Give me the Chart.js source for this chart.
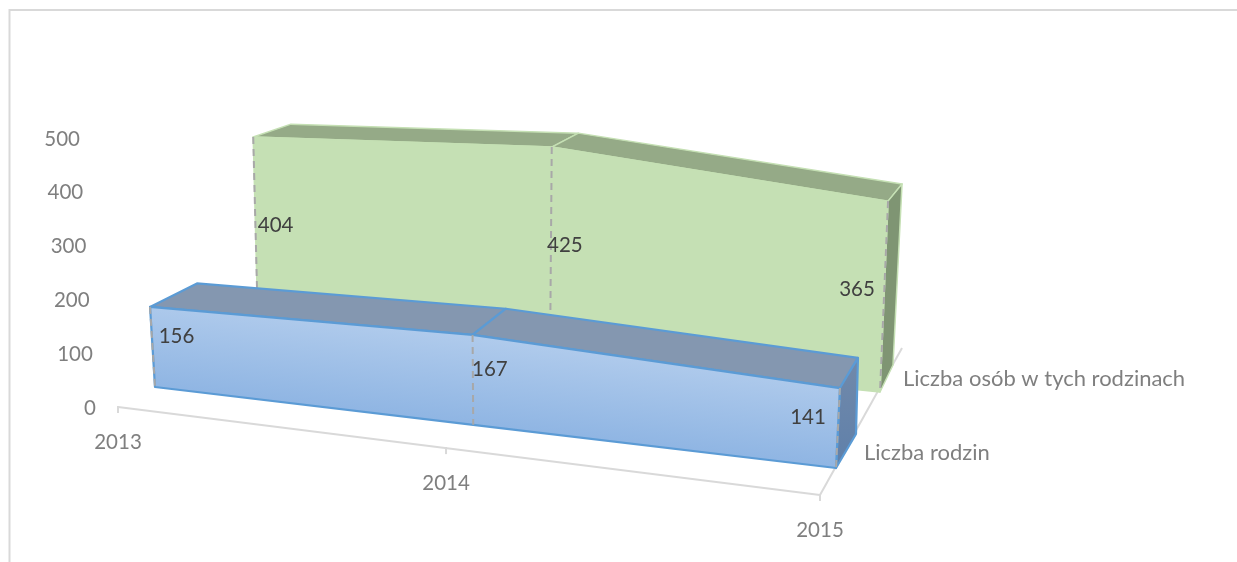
<!DOCTYPE html>
<html>
<head>
<meta charset="utf-8">
<style>
  html, body { margin: 0; padding: 0; background: #fff; overflow: hidden; }
</style>
<script src="https://cdn.jsdelivr.net/npm/chart.js@4"></script>
</head>
<body>
<canvas id="chartRodziny" width="1237" height="562"></canvas>
<script>
const categories = ['2013', '2014', '2015'];
const seriesNames = ['Liczba rodzin', 'Liczba osób w tych rodzinach'];
const rodziny = [156, 167, 141];
const osoby = [404, 425, 365];
const tickStep = 100;
const valueMax = 500;

// 3d view: floor corners of each depth plane, up = px per px of the y scale
const viewRodziny = {
    bend: 1.14,
    labelDx: [24, 17, -30],
    labelDy: -11,
    front: { floorL: [155, 387], floorR: [836, 468], upL: [-0.059, 0.954], upR: [0.052, 1.054] },
    back: { floorL: [201, 361], floorR: [856, 434], upL: [-0.048, 0.924], upR: [0.026, 1.004] },
};
const viewOsoby = {
    bend: 1.13,
    labelDx: [20, 14, -27],
    labelDy: -7,
    front: { floorL: [258, 328], floorR: [880, 392], upL: [-0.022, 0.879], upR: [0.041, 0.972] },
    back: { floorL: [295, 310], floorR: [893, 365], upL: [-0.019, 0.855], upR: [0.046, 0.922] },
};

const numberFont = '20.5px Lato';
const nameFont = '22px Lato';
const axisColor = '#7f7f7f';
const lineColor = '#d9d9d9';

function lerp(a, b, t) {
    return a + (b - a) * t;
}

function project(plane, bend, u, h) {
    const t = u / (u + (1 - u) * bend);
    return {
        x: lerp(plane.floorL[0], plane.floorR[0], t) + lerp(plane.upL[0], plane.upR[0], t) * h,
        y: lerp(plane.floorL[1], plane.floorR[1], t) - lerp(plane.upL[1], plane.upR[1], t) * h,
    };
}

function poly(ctx, pts, fill, stroke, width) {
    ctx.beginPath();
    pts.forEach((p, i) => (i ? ctx.lineTo(p.x, p.y) : ctx.moveTo(p.x, p.y)));
    ctx.closePath();
    ctx.fillStyle = fill;
    ctx.fill();
    ctx.lineWidth = width;
    ctx.lineJoin = 'round';
    ctx.strokeStyle = stroke;
    ctx.stroke();
}

function segment(ctx, a, b, color, width, dash) {
    ctx.beginPath();
    ctx.setLineDash(dash || []);
    ctx.moveTo(a.x, a.y);
    ctx.lineTo(b.x, b.y);
    ctx.strokeStyle = color;
    ctx.lineWidth = width;
    ctx.stroke();
    ctx.setLineDash([]);
}

function drawRibbon(chart, index, view, style) {
    const { ctx, scales } = chart;
    const xs = scales.x, ys = scales.y;
    const values = chart.data.datasets[index].data;
    const us = values.map((v, i) => (xs.getPixelForValue(i) - xs.left) / (xs.right - xs.left));
    const hs = values.map(v => ys.getPixelForValue(0) - ys.getPixelForValue(v));
    const last = values.length - 1;
    const top = values.map((v, i) => project(view.front, view.bend, us[i], hs[i]));
    const base = values.map((v, i) => project(view.front, view.bend, us[i], 0));
    const topBack = values.map((v, i) => project(view.back, view.bend, us[i], hs[i]));
    const baseBack = project(view.back, view.bend, us[last], 0);

    for (let i = 0; i < last; i++) {
        poly(ctx, [top[i], top[i + 1], topBack[i + 1], topBack[i]], style.topFace, style.edge, style.edgeWidth);
    }

    const side = ctx.createLinearGradient(0, topBack[last].y, 0, base[last].y);
    side.addColorStop(0, style.sideTop);
    side.addColorStop(1, style.sideBottom);
    poly(ctx, [top[last], topBack[last], baseBack, base[last]], side, style.edge, style.edgeWidth);

    // front face, shaded across the tilt of the floor
    const a = top[1];
    const dx = base[last].x - base[0].x, dy = base[last].y - base[0].y;
    const len = Math.hypot(dx, dy);
    const depth = base[1].y - top[1].y;
    const face = ctx.createLinearGradient(a.x, a.y, a.x - dy / len * depth, a.y + dx / len * depth);
    face.addColorStop(0, style.faceTop);
    face.addColorStop(1, style.faceBottom);
    poly(ctx, top.concat(base.slice().reverse()), face, style.edge, style.edgeWidth);

    values.forEach((v, i) => segment(ctx, top[i], base[i], '#a8a8a8', 2, [7, 5]));
}

function drawDataLabels(chart, index, view) {
    const { ctx, scales } = chart;
    const xs = scales.x, ys = scales.y;
    chart.data.datasets[index].data.forEach((v, i) => {
        const u = (xs.getPixelForValue(i) - xs.left) / (xs.right - xs.left);
        const h = ys.getPixelForValue(0) - ys.getPixelForValue(v);
        const p = project(view.front, view.bend, u, h / 2);
        ctx.fillText(v, p.x + view.labelDx[i], p.y + view.labelDy);
    });
}

const chart3d = {
    id: 'chart3d',
    beforeDatasetsDraw(chart) {
        const { ctx, scales } = chart;
        const xs = scales.x, ys = scales.y;
        ctx.save();

        // outer frame, cut by the window on the right and at the bottom
        ctx.strokeStyle = lineColor;
        ctx.lineWidth = 2;
        ctx.beginPath();
        ctx.moveTo(9.5, 562);
        ctx.lineTo(9.5, 10);
        ctx.lineTo(1237, 10);
        ctx.stroke();

        // floor axes
        const floorY = u => ys.bottom + 88 * (u / (u + (1 - u) * 1.14));
        const floorX = u => lerp(xs.left, xs.right, u / (u + (1 - u) * 1.14));
        segment(ctx, { x: floorX(0), y: floorY(0) }, { x: floorX(1), y: floorY(1) }, lineColor, 2);
        segment(ctx, { x: floorX(1), y: floorY(1) }, { x: 902, y: 348 }, lineColor, 2);
        categories.forEach((c, i) => {
            const u = (xs.getPixelForValue(i) - xs.left) / (xs.right - xs.left);
            segment(ctx, { x: floorX(u), y: floorY(u) - 1 }, { x: floorX(u), y: floorY(u) + 6 }, lineColor, 2);
        });

        // staggered value labels and the two axis label rows
        ctx.font = numberFont;
        ctx.fillStyle = axisColor;
        ctx.textBaseline = 'middle';
        ctx.textAlign = 'right';
        ys.ticks.forEach((t, i) => {
            ctx.fillText(t.label, 96 - 3.2 * i, ys.getPixelForTick(i) + 1);
        });
        ctx.textAlign = 'center';
        categories.forEach((c, i) => {
            const u = (xs.getPixelForValue(i) - xs.left) / (xs.right - xs.left);
            ctx.fillText(c, floorX(u), floorY(u) + 35);
        });
        ctx.font = nameFont;
        ctx.textAlign = 'left';
        ctx.fillText(chart.data.datasets[0].label, 864, 453);
        ctx.fillText(chart.data.datasets[1].label, 903, 379);

        drawRibbon(chart, 1, viewOsoby, {
            topFace: '#95aa87', sideTop: '#7f9573', sideBottom: '#7f9573',
            faceTop: '#c5e0b4', faceBottom: '#c5e0b4', edge: '#c5e0b4', edgeWidth: 1.5,
        });
        drawRibbon(chart, 0, viewRodziny, {
            topFace: '#8497b0', sideTop: '#7189aa', sideBottom: '#5f80aa',
            faceTop: '#b0cbec', faceBottom: '#8fb5e3', edge: '#5b9bd5', edgeWidth: 2.2,
        });

        ctx.font = numberFont;
        ctx.fillStyle = '#404040';
        ctx.textAlign = 'center';
        ctx.textBaseline = 'middle';
        drawDataLabels(chart, 1, viewOsoby);
        drawDataLabels(chart, 0, viewRodziny);
        ctx.restore();
    },
};

new Chart(document.getElementById('chartRodziny'), {
    type: 'line',
    data: {
        labels: categories,
        datasets: [
            { label: seriesNames[0], data: rodziny, showLine: false, pointRadius: 0 },
            { label: seriesNames[1], data: osoby, showLine: false, pointRadius: 0 },
        ],
    },
    options: {
        responsive: false,
        animation: false,
        layout: { padding: { left: 118, right: 417, top: 138, bottom: 155 } },
        plugins: { legend: { display: false }, tooltip: { enabled: false } },
        scales: {
            x: { display: false, offset: false },
            y: { display: false, min: 0, max: valueMax, ticks: { stepSize: tickStep } },
        },
    },
    plugins: [chart3d],
});
</script>
</body>
</html>
